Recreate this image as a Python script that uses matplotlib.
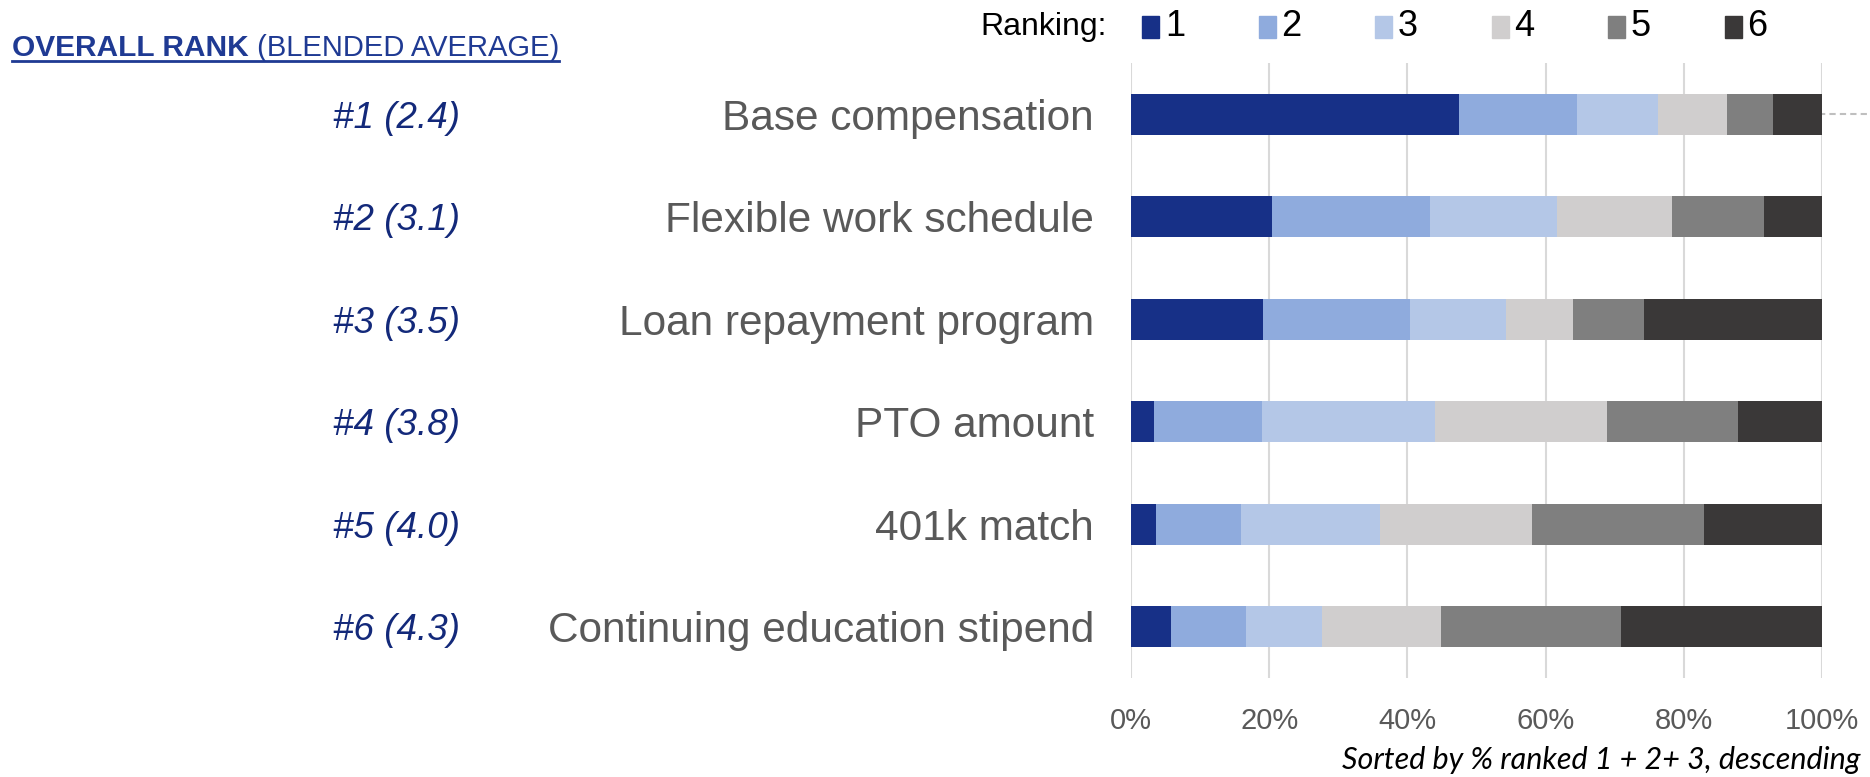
import numpy as np
import matplotlib.pyplot as plt
from matplotlib.patches import Rectangle
from matplotlib.lines import Line2D

# data (percent of respondents per ranking)
benefits = ["Base compensation", "Flexible work schedule", "Loan repayment program",
            "PTO amount", "401k match", "Continuing education stipend"]
rank_labels = ["#1 (2.4)", "#2 (3.1)", "#3 (3.5)", "#4 (3.8)", "#5 (4.0)", "#6 (4.3)"]
rank1 = [47.5, 20.4, 19.1, 3.4, 3.6, 5.8]
rank2 = [17.1, 22.9, 21.3, 15.6, 12.3, 10.8]
rank3 = [11.6, 18.3, 13.8, 25.0, 20.2, 11.1]
rank4 = [10.0, 16.7, 9.7, 24.9, 21.9, 17.1]
rank5 = [6.7, 13.3, 10.3, 19.0, 24.9, 26.1]
rank6 = [7.1, 8.4, 25.8, 12.1, 17.1, 29.1]
rankings = ["1", "2", "3", "4", "5", "6"]
xticks = [0, 20, 40, 60, 80, 100]

colors = ["#173087", "#8FABDD", "#B4C7E7", "#D0CECE", "#7F7F7F", "#3A3838"]
gray_txt = "#595959"
navy = "#13297A"

plt.rcParams['font.family'] = ['Liberation Sans', 'DejaVu Sans']

W, H = 1870, 777
fig = plt.figure(figsize=(W / 100, H / 100), dpi=100)
ax = fig.add_axes([1131 / W, 1 - 678 / H, (1822 - 1131) / W, (678 - 63) / H])

series = [rank1, rank2, rank3, rank4, rank5, rank6]
y = np.arange(len(benefits))
left = np.zeros(len(benefits))
for vals, c in zip(series, colors):
    vals = np.array(vals)
    ax.barh(y, vals, left=left, height=0.4, color=c, edgecolor="none", zorder=3)
    left += vals

ax.set_xlim(0, 100)
ax.set_ylim(len(benefits) - 0.5, -0.5)
ax.set_xticks(xticks)
ax.set_xticklabels([f"{t}%" for t in xticks], fontsize=21, color=gray_txt)
ax.tick_params(axis="x", length=0, pad=21)
ax.set_yticks([])
ax.grid(axis="x", color="#D9D9D9", linewidth=1.5, zorder=0)
for s in ax.spines.values():
    s.set_visible(False)

# category and rank labels
for i in range(len(benefits)):
    ax.annotate(benefits[i], xy=(0, y[i]), xycoords=("axes fraction", "data"),
                xytext=(1094 - 1131, 0), textcoords="offset pixels",
                ha="right", va="center_baseline", fontsize=30.5, color=gray_txt)
    ax.annotate(rank_labels[i], xy=(0, y[i]), xycoords=("axes fraction", "data"),
                xytext=(460 - 1131, 0), textcoords="offset pixels",
                ha="right", va="center_baseline", fontsize=26.5, color=navy, style="italic")

# dashed leader line next to the first bar
ax.add_line(Line2D([0.995, 1.08], [0, 0], transform=ax.get_yaxis_transform(),
                   color="#BFBFBF", linestyle=(0, (3, 2)), linewidth=1.5, clip_on=False))

# title
t1 = fig.text(12 / W, 1 - 48 / H, "OVERALL RANK", fontsize=21.5, fontweight="bold",
              color="#1F3A93", va="center", ha="left")
fig.canvas.draw()
bb = t1.get_window_extent()
t2 = fig.text(bb.x1 / W, 1 - 48 / H, " (BLENDED AVERAGE)", fontsize=21, color="#1F3A93",
              va="center", ha="left")
fig.canvas.draw()
bb2 = t2.get_window_extent()
fig.add_artist(Line2D([12 / W, bb2.x1 / W], [1 - 61 / H, 1 - 61 / H], color="#1F3A93",
                      linewidth=2))

# legend
fig.text(1107 / W, 1 - 27 / H, "Ranking:", fontsize=23, color="black", ha="right", va="center")
for k, (lab, c) in enumerate(zip(rankings, colors)):
    x0 = 1142 + k * 116.5
    fig.add_artist(Rectangle((x0 / W, 1 - 38 / H), 17 / W, 22 / H, color=c,
                             transform=fig.transFigure))
    fig.text((x0 + 23) / W, 1 - 27 / H, lab, fontsize=26, color="black", ha="left", va="center")

fig.text(1860 / W, 1 - 760 / H, "Sorted by % ranked 1 + 2+ 3, descending",
         fontsize=22, style="italic", family=["Lato", "DejaVu Sans"], color="black",
         ha="right", va="center")

fig.savefig("out.png", dpi=100)
